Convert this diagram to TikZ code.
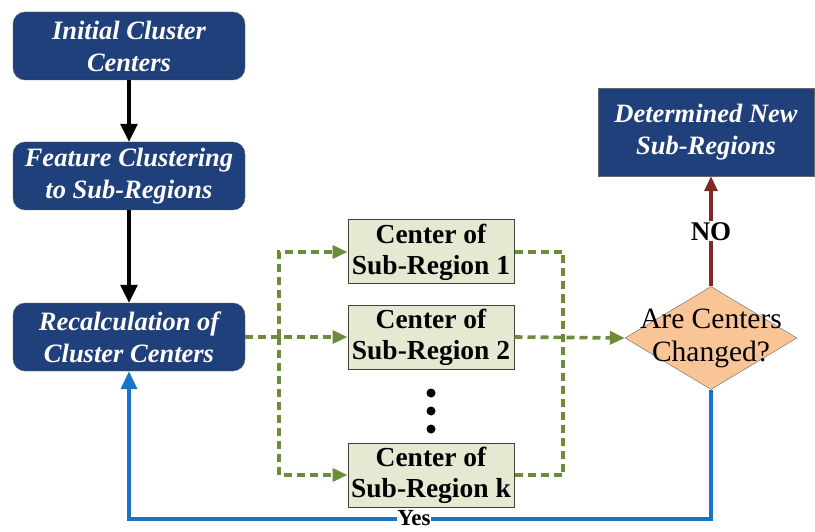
\documentclass[tikz,border=0pt]{standalone}
\usepackage{fontspec}
\setmainfont{Liberation Serif}
\usetikzlibrary{arrows.meta,shapes.geometric}

\definecolor{boxblue}{RGB}{31,64,122}
\definecolor{subfill}{RGB}{228,234,210}
\definecolor{peach}{RGB}{249,197,151}
\definecolor{olive}{RGB}{108,140,58}
\definecolor{noline}{RGB}{128,40,36}
\definecolor{yesline}{RGB}{24,116,200}

\begin{document}
\begin{tikzpicture}[x=1pt,y=1pt,
  bluebox/.style={draw=black!60, fill=boxblue, text=white, rounded corners=12pt,
    minimum width=232pt, minimum height=68pt, inner sep=0pt, align=center,
    font=\fontsize{26.5}{32}\selectfont\bfseries\itshape},
  subbox/.style={draw=black!75, line width=1pt, fill=subfill, minimum width=166pt, minimum height=64pt,
    inner sep=0pt, align=center, font=\fontsize{27.5}{31}\selectfont\bfseries},
  flow/.style={line width=3.2pt, -{Triangle[length=18pt,width=17pt]}},
  gdash/.style={olive, line width=3.6pt, dash pattern=on 8pt off 5pt},
  garrow/.style={gdash, -{Triangle[length=15pt,width=13pt]}},
  lbl/.style={fill=white, inner sep=1pt, font=\fontsize{27}{30}\selectfont\bfseries}]
  \useasboundingbox (0,0) rectangle (815,-532);

  % left column
  \node[bluebox] (init) at (129,-46) {Initial Cluster\\Centers};
  \node[bluebox] (feat) at (129,-176) {Feature Clustering\\to Sub-Regions};
  \node[bluebox] (recalc) at (129,-337) {Recalculation of\\Cluster Centers};

  % sub-region centers
  \node[subbox] (sub1) at (431,-252) {Center of\\Sub-Region 1};
  \node[subbox] (sub2) at (431,-337) {Center of\\Sub-Region 2};
  \node[subbox] (subk) at (431,-475) {Center of\\Sub-Region k};
  \fill (431,-393) circle (4.5pt);
  \fill (431,-411) circle (4.5pt);
  \fill (431,-429) circle (4.5pt);

  % decision and result
  \node[diamond, draw=black!60, fill=peach, minimum width=172pt, minimum height=103pt,
    inner sep=0pt, label={[align=center, font=\fontsize{29.5}{33}\selectfont]center:Are Centers\\Changed?}]
    (chg) at (711,-338) {};
  \node[draw=black!60, fill=boxblue, text=white, minimum width=216pt, minimum height=88pt,
    inner sep=0pt, align=center, font=\fontsize{26.5}{32}\selectfont\bfseries\itshape]
    (newreg) at (706,-132) {Determined New\\Sub-Regions};

  \coordinate (lj) at (279,-337);
  \coordinate (rj) at (563,-337);
  \coordinate (ybot) at (129,-519);

  % connectors
  \draw[flow] (init) -- (feat);
  \draw[flow] (feat) -- (recalc);
  \draw[garrow] (recalc.east) -- (sub2.west);
  \draw[garrow] (lj) |- (sub1.west);
  \draw[garrow] (lj) |- (subk.west);
  \draw[gdash] (sub1.east) -| (rj);
  \draw[gdash] (subk.east) -| (rj);
  \draw[garrow] (sub2.east) -- (chg.west);
  \draw[noline, line width=3.2pt, -{Triangle[length=15pt,width=13pt]}]
    (chg.north) -- node[lbl, text=black, pos=0.5] {NO} (chg.north |- newreg.south);
  \draw[yesline, line width=3.6pt, -{Triangle[length=18pt,width=16pt]}]
    (chg.south) |- (ybot) -- (recalc.south);
  \node[lbl, inner sep=0.5pt, font=\fontsize{23}{25}\selectfont\bfseries] (yes) at (414,-518) {Yes};
\end{tikzpicture}
\end{document}
